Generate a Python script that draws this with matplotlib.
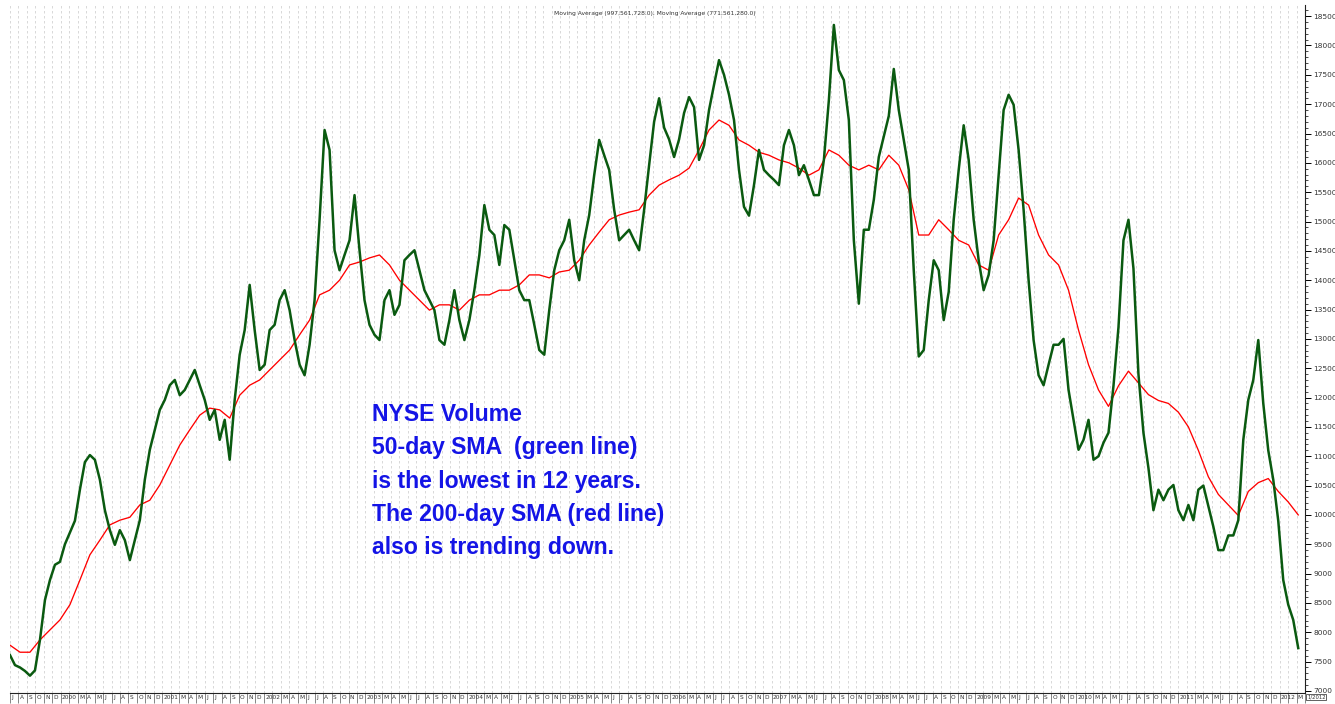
import numpy as np
import matplotlib
matplotlib.use("Agg")
import matplotlib.pyplot as plt
import matplotlib.transforms as mtransforms
from matplotlib.ticker import MultipleLocator

# ---------------- data ----------------
# 50-day SMA of NYSE volume, sampled every ~0.59 month from Jul 1999 to early 2012
green_sma50 = [
    7610, 7440, 7400, 7340, 7260, 7350, 7870, 8550, 8890, 9150,
    9200, 9500, 9700, 9900, 10430, 10900, 11020, 10940, 10600, 10080,
    9740, 9490, 9740, 9570, 9230, 9570, 9910, 10600, 11110, 11450,
    11790, 11960, 12210, 12300, 12040, 12130, 12300, 12470, 12210, 11960,
    11620, 11790, 11280, 11620, 10940, 11960, 12730, 13150, 13920, 13150,
    12470, 12560, 13150, 13240, 13660, 13830, 13490, 12980, 12560, 12380,
    12900, 13660, 15030, 16560, 16220, 14510, 14170, 14430, 14680, 15450,
    14510, 13660, 13240, 13070, 12980, 13660, 13830, 13410, 13580, 14340,
    14430, 14510, 14170, 13830, 13660, 13490, 12980, 12900, 13320, 13830,
    13320, 12980, 13320, 13830, 14430, 15280, 14860, 14770, 14260, 14940,
    14860, 14340, 13830, 13660, 13660, 13240, 12810, 12730, 13490, 14170,
    14510, 14680, 15030, 14340, 14000, 14680, 15110, 15790, 16390, 16130,
    15880, 15200, 14680, 14770, 14860, 14680, 14510, 15200, 15960, 16700,
    17100, 16600, 16400, 16100, 16400, 16850, 17120, 16950, 16050, 16300,
    16900, 17330, 17750, 17500, 17160, 16730, 15880, 15250, 15100, 15620,
    16220, 15880, 15790, 15710, 15620, 16300, 16560, 16300, 15790, 15960,
    15710, 15450, 15450, 16050, 17070, 18350, 17580, 17410, 16730, 14680,
    13600, 14860, 14860, 15370, 16100, 16450, 16800, 17600, 16900, 16390,
    15880, 14170, 12700, 12810, 13660, 14340, 14170, 13320, 13800, 15030,
    15880, 16640, 16050, 15030, 14340, 13830, 14090, 14680, 15790, 16900,
    17160, 16990, 16220, 15200, 14000, 12980, 12380, 12210, 12560, 12900,
    12900, 13000, 12130, 11620, 11110, 11280, 11620, 10940, 11000, 11230,
    11400, 12200, 13200, 14680, 15030, 14200, 12400, 11400, 10800, 10080,
    10430, 10250, 10430, 10510, 10080, 9910, 10170, 9910, 10430, 10500,
    10150, 9800, 9400, 9400, 9650, 9650, 9910, 11280, 11960, 12300,
    12980, 11900, 11100, 10600, 9900, 8890, 8470, 8210, 7730,
]

# 200-day SMA of NYSE volume, sampled every ~1.18 month over the same span
red_sma200 = [
    7780, 7660, 7660, 7870, 8040, 8210, 8470, 8890, 9320, 9570,
    9830, 9910, 9960, 10170, 10250, 10510, 10850, 11190, 11450, 11700,
    11820, 11790, 11650, 12040, 12210, 12300, 12470, 12640, 12810, 13070,
    13320, 13750, 13830, 14000, 14260, 14310, 14380, 14430, 14260, 14000,
    13830, 13660, 13490, 13580, 13580, 13490, 13660, 13750, 13750, 13830,
    13830, 13920, 14090, 14090, 14040, 14140, 14170, 14340, 14600, 14820,
    15030, 15110, 15160, 15200, 15450, 15620, 15710, 15790, 15910, 16220,
    16560, 16730, 16640, 16390, 16300, 16180, 16130, 16050, 16000, 15910,
    15790, 15880, 16220, 16130, 15960, 15880, 15960, 15880, 16130, 15960,
    15540, 14770, 14770, 15030, 14860, 14680, 14600, 14260, 14170, 14770,
    15030, 15400, 15280, 14770, 14430, 14260, 13830, 13150, 12560, 12130,
    11850, 12200, 12450, 12250, 12050, 11950, 11900, 11750, 11500, 11100,
    10650, 10350, 10170, 9990, 10400, 10550, 10620, 10400, 10220, 10000,
]

start_year = 1999
start_month = 7          # July 1999
n_months = 153           # months shown on the axis
data_span_months = 152.2 # span covered by the two series
month_letters = ["J", "F", "M", "A", "M", "J", "J", "A", "S", "O", "N", "D"]
y_min, y_max = 6965, 18690
title_text = "Moving Average (997,561,728.0), Moving Average (771,561,280.0)"
note_lines = [
    "NYSE Volume",
    "50-day SMA  (green line)",
    "is the lowest in 12 years.",
    "The 200-day SMA (red line)",
    "also is trending down.",
]

# ---------------- figure ----------------
W, H = 1335, 704
fig = plt.figure(figsize=(W / 100, H / 100), dpi=100)
ax = fig.add_axes([10 / W, 11 / H, 1295 / W, 688 / H])

gx = np.linspace(0, data_span_months, len(green_sma50))
rx = np.linspace(0, data_span_months, len(red_sma200))
ax.plot(rx, red_sma200, color="#ff0000", lw=0.95, zorder=3)
ax.plot(gx, green_sma50, color="#0a5a10", lw=1.8, zorder=4,
        solid_joinstyle="round")

ax.set_xlim(0, 152.8)
ax.set_ylim(y_min, y_max)

# vertical monthly dashed grid
ax.set_xticks(np.arange(0, n_months + 1))
ax.tick_params(axis="x", which="major", length=7, width=0.5, color="#555555",
               labelbottom=False, direction="out")
ax.grid(axis="x", which="major", color="#d2d2d2", lw=0.6, ls=(0, (3.0, 3.0)))
ax.set_axisbelow(True)

# month / year labels
trans = mtransforms.blended_transform_factory(ax.transData, ax.transAxes)
for m in range(n_months):
    mi = (start_month - 1 + m) % 12
    yr = start_year + (start_month - 1 + m) // 12
    if mi == 1:
        continue
    lab = str(yr) if mi == 0 else month_letters[mi]
    ax.text(m + 0.15, -0.003, lab, transform=trans, ha="left", va="top",
            fontsize=4.2, color="#333333", clip_on=False)

# right y axis
ax.yaxis.tick_right()
ax.yaxis.set_major_locator(MultipleLocator(500))
ax.yaxis.set_minor_locator(MultipleLocator(100))
ax.tick_params(axis="y", which="major", length=4, width=0.7, labelsize=5.3,
               labelcolor="#333333", pad=2)
ax.tick_params(axis="y", which="minor", length=2, width=0.5)

for s in ["left", "top"]:
    ax.spines[s].set_visible(False)
for s in ["right", "bottom"]:
    ax.spines[s].set_linewidth(0.8)
    ax.spines[s].set_color("#222222")

# header text
fig.text(655 / W, 1 - 14 / H, title_text, ha="center", va="center",
         fontsize=4.3, color="#333333")

# small date box at lower right
fig.text(1307 / W, 1 - 697 / H, "1/2012", ha="left", va="center",
         fontsize=3.8, color="#333333",
         bbox=dict(boxstyle="square,pad=0.15", fc="white", ec="#222222", lw=0.5))

# annotation
baselines = [421, 454, 488, 521, 554]
for line, yb in zip(note_lines, baselines):
    fig.text(372 / W, 1 - yb / H, line, ha="left", va="baseline",
             fontsize=16.6, fontweight="bold", color="#1414e6",
             family=["Liberation Sans", "DejaVu Sans"])

fig.savefig("out.png", dpi=100)
